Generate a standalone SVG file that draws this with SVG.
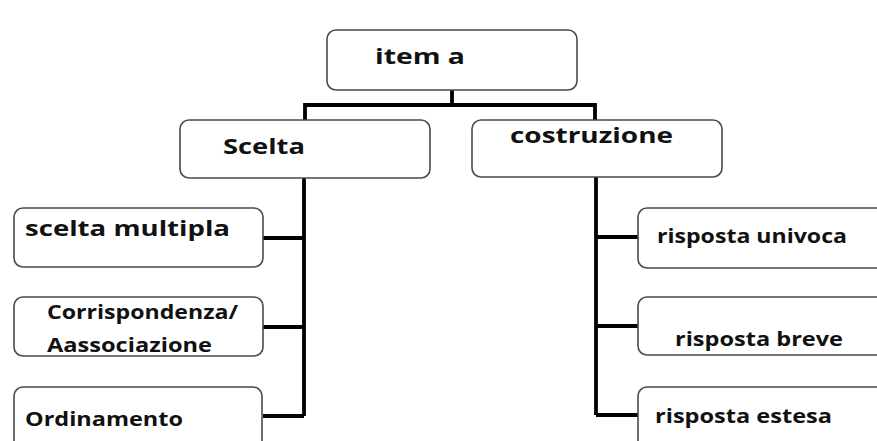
<svg xmlns="http://www.w3.org/2000/svg" width="877" height="441" viewBox="0 0 877 441">
<style>
.box{fill:#ffffff;stroke:#4a4a4a;stroke-width:1.6}
.lbl{font-family:"Open Sans","Liberation Sans",sans-serif;font-weight:700;font-size:22px;fill:#111111}
.sm{font-size:20px}
.conn{fill:none;stroke:#000000;stroke-width:3.8;stroke-linejoin:miter}
</style>
<rect width="877" height="441" fill="#ffffff"/>
<g id="connectors">
<path class="conn" d="M452,90 V105 M305,121 V105 H595 V121"/>
<path class="conn" d="M304,178 V416 M263,238 H304 M263,327 H304 M263,416 H304"/>
<path class="conn" d="M596,177 V415 M596,237 H638 M596,326 H638 M596,415 H638"/>
</g>
<g id="item-a">
<rect class="box" x="327" y="30" width="250" height="60" rx="9"/>
<text class="lbl" x="375" y="64" textLength="90" lengthAdjust="spacingAndGlyphs">item a</text>
</g>
<g id="scelta">
<rect class="box" x="180" y="120" width="250" height="58" rx="9"/>
<text class="lbl" x="223" y="154" textLength="82" lengthAdjust="spacingAndGlyphs">Scelta</text>
</g>
<g id="costruzione">
<rect class="box" x="472" y="120" width="250" height="57" rx="9"/>
<text class="lbl" x="510" y="143" textLength="163" lengthAdjust="spacingAndGlyphs">costruzione</text>
</g>
<g id="scelta-multipla">
<rect class="box" x="14" y="208" width="249" height="59" rx="9"/>
<text class="lbl" x="25" y="236" textLength="205" lengthAdjust="spacingAndGlyphs">scelta multipla</text>
</g>
<g id="corrispondenza">
<rect class="box" x="14" y="297" width="249" height="59" rx="9"/>
<text class="lbl sm" x="47" y="319" textLength="191" lengthAdjust="spacingAndGlyphs">Corrispondenza/</text>
<text class="lbl sm" x="47" y="352" textLength="165" lengthAdjust="spacingAndGlyphs">Aassociazione</text>
</g>
<g id="ordinamento">
<rect class="box" x="14" y="387" width="248" height="70" rx="9"/>
<text class="lbl sm" x="25" y="426" textLength="158" lengthAdjust="spacingAndGlyphs">Ordinamento</text>
</g>
<g id="risposta-univoca">
<rect class="box" x="638" y="208" width="260" height="60" rx="9"/>
<text class="lbl sm" x="657" y="243" textLength="190" lengthAdjust="spacingAndGlyphs">risposta univoca</text>
</g>
<g id="risposta-breve">
<rect class="box" x="638" y="297" width="260" height="58" rx="9"/>
<text class="lbl sm" x="675" y="346" textLength="168" lengthAdjust="spacingAndGlyphs">risposta breve</text>
</g>
<g id="risposta-estesa">
<rect class="box" x="638" y="387" width="260" height="70" rx="9"/>
<text class="lbl sm" x="655" y="423" textLength="177" lengthAdjust="spacingAndGlyphs">risposta estesa</text>
</g>
</svg>
